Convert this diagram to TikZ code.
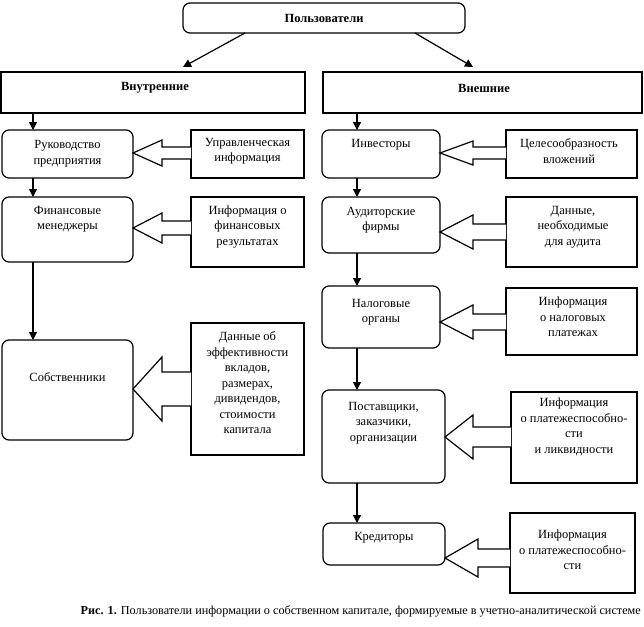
\documentclass[tikz,border=0pt]{standalone}
\usepackage{fontspec}
\setmainfont{Liberation Serif}
\usetikzlibrary{arrows.meta}
\tikzset{
  bx/.style={draw, line width=1.2pt, fill=white, outer sep=0pt, inner sep=0pt},
  rbx/.style={bx, rounded corners=7pt},
  txt/.style={align=center, inner sep=0pt, font=\fontsize{12.5}{15.5}\selectfont},
  btxt/.style={txt, font=\fontsize{12.5}{15.5}\selectfont\bfseries},
  arr/.style={line width=1.2pt, -{Triangle[length=8pt,width=8pt]}},
  blk/.style={line width=1.2pt, fill=white, line join=miter}
}
\newcommand{\blkarrow}[6]{%
  \coordinate (ba-y) at (0,#3);
  \coordinate (ba-t) at (#1.east |- ba-y);
  \coordinate (ba-s) at (#2.west |- ba-y);
  \draw[blk] ([yshift=#5pt]ba-s) -- ([xshift=#6pt,yshift=#5pt]ba-t) -- ([xshift=#6pt,yshift=#4pt]ba-t) -- (ba-t) -- ([xshift=#6pt,yshift=-#4pt]ba-t) -- ([xshift=#6pt,yshift=-#5pt]ba-t) -- ([yshift=-#5pt]ba-s);
}
\begin{document}
\begin{tikzpicture}[x=1pt,y=-1pt]
\useasboundingbox[fill=white] (0,0) rectangle (644,626);
% header
\node[rbx, minimum width=282, minimum height=30] (pol) at (324,18) {};
\node[btxt] (polt) at (324,18) {Пользователи};
\node[bx, minimum width=304, minimum height=41] (vnut) at (153,92.5) {};
\node[btxt] (vnutt) at (155,88) {Внутренние};
\node[bx, minimum width=319, minimum height=41] (vnesh) at (482.5,92.5) {};
\node[btxt] (vnesht) at (484,88) {Внешние};
\draw[arr] ([xshift=-79pt]pol.south) -- ([xshift=30pt,yshift=5pt]vnut.north);
\draw[arr] ([xshift=91pt]pol.south) -- ([xshift=-9.5pt,yshift=5pt]vnesh.north);
% left column
\node[rbx, minimum width=131, minimum height=48] (ruk) at (67.5,154) {};
\node[txt] (rukt) at (67.5,153.5) {Руководство\\предприятия};
\node[rbx, minimum width=131, minimum height=65] (fin) at (67.5,229.5) {};
\node[txt] (fint) at (67.5,219) {Финансовые\\менеджеры};
\node[rbx, minimum width=131, minimum height=100] (sob) at (67.5,390) {};
\node[txt] (sobt) at (67.5,377) {Собственники};
\node[bx, minimum width=113, minimum height=48] (upr) at (247.5,154) {};
\node[txt] (uprt) at (247.5,151) {Управленческая\\информация};
\node[bx, minimum width=113, minimum height=70] (finres) at (247.5,232) {};
\node[txt] (finrest) at (247.5,227) {Информация о\\финансовых\\результатах};
\node[bx, minimum width=113, minimum height=132] (dan) at (247.5,389) {};
\node[txt] (dant) at (247.5,383) {Данные об\\эффективности\\вкладов,\\размерах,\\дивидендов,\\стоимости\\капитала};
\coordinate (colL) at (33,0);
\draw[arr] (vnut.south -| colL) -- (ruk.north -| colL);
\draw[arr] (ruk.south -| colL) -- (fin.north -| colL);
\draw[arr] (fin.south -| colL) -- (sob.north -| colL);
\blkarrow{ruk}{upr}{153}{13}{6}{29}
\blkarrow{fin}{finres}{228}{15}{7}{29}
\blkarrow{sob}{dan}{389}{32}{17}{29}
% right column
\node[rbx, minimum width=118, minimum height=48] (inv) at (381,154) {};
\node[txt] (invt) at (381,145) {Инвесторы};
\node[rbx, minimum width=118, minimum height=56] (aud) at (381,225) {};
\node[txt] (audt) at (381,220) {Аудиторские\\фирмы};
\node[rbx, minimum width=118, minimum height=62] (nal) at (381,317) {};
\node[txt] (nalt) at (381,312) {Налоговые\\органы};
\node[rbx, minimum width=123, minimum height=93] (post) at (383.5,436.5) {};
\node[txt] (postt) at (383.5,423) {Поставщики,\\заказчики,\\организации};
\node[rbx, minimum width=122, minimum height=42] (kred) at (384,544) {};
\node[txt] (kredt) at (384,538) {Кредиторы};
\node[bx, minimum width=131, minimum height=48] (cel) at (571.5,154) {};
\node[txt] (celt) at (569,151) {Целесообразность\\вложений};
\node[bx, minimum width=131, minimum height=70] (audinfo) at (571.5,232) {};
\node[txt] (audinfot) at (573,227) {Данные,\\необходимые\\для аудита};
\node[bx, minimum width=131, minimum height=67] (nalinfo) at (571.5,321.5) {};
\node[txt] (nalinfot) at (573,317) {Информация\\о налоговых\\платежах};
\node[bx, minimum width=126, minimum height=91] (platinfo) at (574,437.5) {};
\node[txt] (platinfot) at (574,427) {Информация\\о платежеспособно-\\сти\\и ликвидности};
\node[bx, minimum width=125, minimum height=80] (kredinfo) at (572.5,553) {};
\node[txt] (kredinfot) at (572.5,550) {Информация\\о платежеспособно-\\сти};
\coordinate (colR) at (357,0);
\draw[arr] (vnesh.south -| colR) -- (inv.north -| colR);
\draw[arr] (inv.south -| colR) -- (aud.north -| colR);
\draw[arr] (aud.south -| colR) -- (nal.north -| colR);
\draw[arr] (nal.south -| colR) -- (post.north -| colR);
\draw[arr] (post.south -| colR) -- (kred.north -| colR);
\blkarrow{inv}{cel}{153}{12}{6}{33}
\blkarrow{aud}{audinfo}{232}{17}{8}{33}
\blkarrow{nal}{nalinfo}{322}{17}{8}{33}
\blkarrow{post}{platinfo}{437}{22}{10}{28}
\blkarrow{kred}{kredinfo}{558}{19}{9}{33}
% caption
\node[txt, anchor=east, font=\fontsize{12.2}{14}\selectfont] (cap) at (641,611) {\textbf{Рис. 1.} Пользователи информации о собственном капитале, формируемые в учетно-аналитической системе};
\end{tikzpicture}
\end{document}
